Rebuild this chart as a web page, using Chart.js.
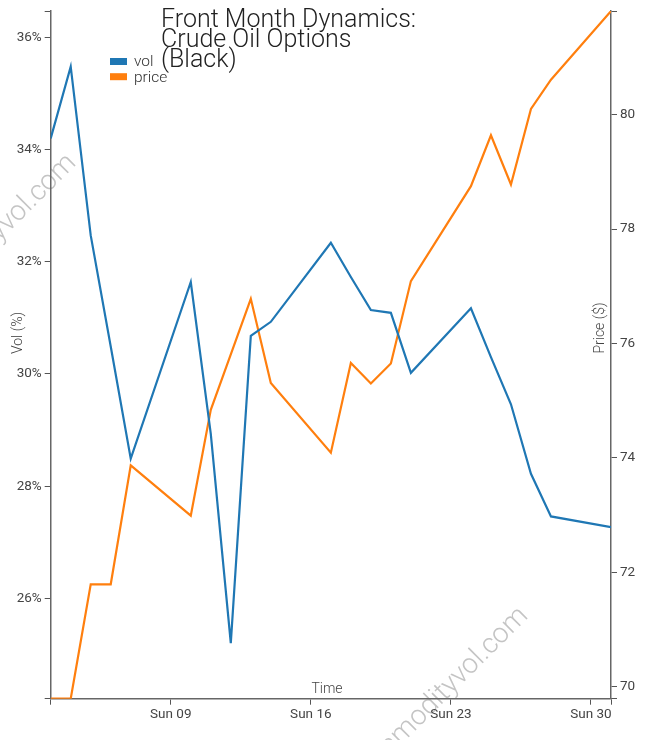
<!DOCTYPE html>
<html>
<head>
<meta charset="utf-8">
<title>Front Month Dynamics</title>
<script src="https://cdn.jsdelivr.net/npm/chart.js@4.4.1/dist/chart.umd.min.js"></script>
<style>
  body { margin: 0; background: #fff; overflow: hidden; }
  #wrap { width: 653px; height: 740px; }
</style>
</head>
<body>
<div id="wrap"><canvas id="chart1" width="653" height="740"></canvas></div>
<script>
//day of month (june 2024, 31 = mon jul 1)
var days = [3, 4, 5, 6, 7, 10, 11, 12, 13, 14, 17, 18, 19, 20, 21, 24, 25, 26, 27, 28, 31];

//front month implied vol (%)
var vol = [34.20, 35.48, 32.47, 30.49, 28.49, 31.64, 28.93, 25.20, 30.68, 30.93, 32.34,
           31.73, 31.14, 31.09, 30.02, 31.17, 30.30, 29.46, 28.22, 27.46, 27.27];

//front month price ($)
var price = [69.79, 69.79, 71.79, 71.79, 73.87, 72.99, 74.84, 75.81, 76.78, 75.31, 74.09,
             75.66, 75.30, 75.65, 77.09, 78.75, 79.64, 78.78, 80.10, 80.61, 81.81];

//tick labels
var timeTicks = [9, 16, 23, 30];
var timeLabels = ['Sun 09', 'Sun 16', 'Sun 23', 'Sun 30'];
var volTicks = [26, 28, 30, 32, 34, 36];
var priceTicks = [70, 72, 74, 76, 78, 80];

var titleLines = ['Front Month Dynamics:', 'Crude Oil Options', '(Black)'];

var blue = '#1f77b4';
var orange = '#ff7f0e';

Chart.defaults.font.family = 'Roboto, "Open Sans", sans-serif';
Chart.defaults.color = '#444';

//the vol axis has a bit of room round the data, the price axis is just min/max
var volMin = 24.21, volMax = 36.47;
var priceMin = Math.min.apply(null, price);
var priceMax = Math.max.apply(null, price);

function pts(ys) {
	return days.map(function (d, i) { return { x: d, y: ys[i] }; });
}

//sets ticks to the given values plus the domain ends (d3 style outer ticks)
function setTicks(list) {
	return function (scale) {
		var t = [scale.min].concat(list.filter(function (v) { return v > scale.min && v < scale.max; }), [scale.max]);
		scale.ticks = t.map(function (v) { return { value: v }; });
	};
}

//draws the watermark, title, legend and axis titles
var decor = {
	id: 'decor',
	beforeDraw: function (chart) {
		var ctx = chart.ctx;
		ctx.save();
		ctx.fillStyle = '#c4c4c4';
		ctx.font = '300 28px Roboto';
		ctx.textAlign = 'right';
		ctx.textBaseline = 'alphabetic';
		//anchored at the end of the text
		[[77, 164], [529, 617]].forEach(function (p) {
			ctx.save();
			ctx.translate(p[0], p[1]);
			ctx.rotate(-45 * Math.PI / 180);
			ctx.fillText('commodityvol.com', 0, 0);
			ctx.restore();
		});
		ctx.restore();
	},
	afterDraw: function (chart) {
		var ctx = chart.ctx;
		var a = chart.chartArea;
		ctx.save();

		//title, left aligned
		ctx.fillStyle = '#222';
		ctx.font = '300 25px Roboto';
		ctx.textAlign = 'left';
		ctx.textBaseline = 'alphabetic';
		titleLines.forEach(function (s, i) {
			ctx.fillText(s, 161, 27 + i * 20);
		});

		//legend
		ctx.font = '300 15.5px Roboto';
		chart.data.datasets.forEach(function (ds, i) {
			var y = 61.5 + i * 15.2;
			ctx.fillStyle = ds.borderColor;
			ctx.fillRect(110, y - 3.5, 17, 7);
			ctx.fillStyle = '#333';
			ctx.textBaseline = 'middle';
			ctx.fillText(ds.label, 134, y + 1);
		});

		//axis titles
		ctx.fillStyle = '#444';
		ctx.font = '300 14px Roboto';
		ctx.textAlign = 'center';
		ctx.textBaseline = 'middle';
		ctx.save();
		ctx.translate(18, 333);
		ctx.rotate(-Math.PI / 2);
		ctx.fillText('Vol (%)', 0, 0);
		ctx.restore();
		ctx.save();
		ctx.translate(a.right - 11, 328);
		ctx.rotate(-Math.PI / 2);
		ctx.fillText('Price ($)', 0, 0);
		ctx.restore();
		ctx.textBaseline = 'alphabetic';
		ctx.fillText('Time', 327, a.bottom - 6);

		ctx.restore();
	}
};

var axisGrid = { drawOnChartArea: false, drawTicks: true, tickLength: 6, color: '#555', lineWidth: 1 };
var axisBorder = { display: true, color: '#666', width: 1.5 };
var tickFont = { size: 13.5, weight: 400 };

new Chart(document.getElementById('chart1'), {
	type: 'line',
	data: {
		datasets: [
			{ label: 'vol', data: pts(vol), yAxisID: 'y', borderColor: blue, backgroundColor: blue,
			  borderWidth: 2.2, pointRadius: 0, tension: 0, fill: false },
			{ label: 'price', data: pts(price), yAxisID: 'y1', borderColor: orange, backgroundColor: orange,
			  borderWidth: 2.2, pointRadius: 0, tension: 0, fill: false }
		]
	},
	options: {
		responsive: false,
		devicePixelRatio: 1,
		animation: false,
		layout: { padding: { top: 11, left: 0, right: 0, bottom: 0 } },
		plugins: { legend: { display: false }, title: { display: false }, tooltip: { enabled: false } },
		scales: {
			x: {
				type: 'linear',
				min: days[0],
				max: days[days.length - 1],
				afterBuildTicks: setTicks(timeTicks),
				afterFit: function (s) { s.height = 41.3; },
				grid: axisGrid,
				border: axisBorder,
				ticks: {
					font: tickFont, padding: 2, maxRotation: 0, autoSkip: false,
					callback: function (v) {
						var i = timeTicks.indexOf(v);
						return i < 0 ? '' : timeLabels[i];
					}
				}
			},
			y: {
				position: 'left',
				min: volMin,
				max: volMax,
				afterBuildTicks: setTicks(volTicks),
				afterFit: function (s) { s.width = 50.7; },
				grid: axisGrid,
				border: axisBorder,
				ticks: {
					font: tickFont, padding: 3, autoSkip: false,
					callback: function (v) { return volTicks.indexOf(v) < 0 ? '' : v + '%'; }
				}
			},
			y1: {
				position: 'right',
				min: priceMin,
				max: priceMax,
				afterBuildTicks: setTicks(priceTicks),
				afterFit: function (s) { s.width = 42; },
				grid: axisGrid,
				border: axisBorder,
				ticks: {
					font: tickFont, padding: 3, autoSkip: false,
					callback: function (v) { return priceTicks.indexOf(v) < 0 ? '' : v; }
				}
			}
		}
	},
	plugins: [decor]
});
</script>
</body>
</html>
